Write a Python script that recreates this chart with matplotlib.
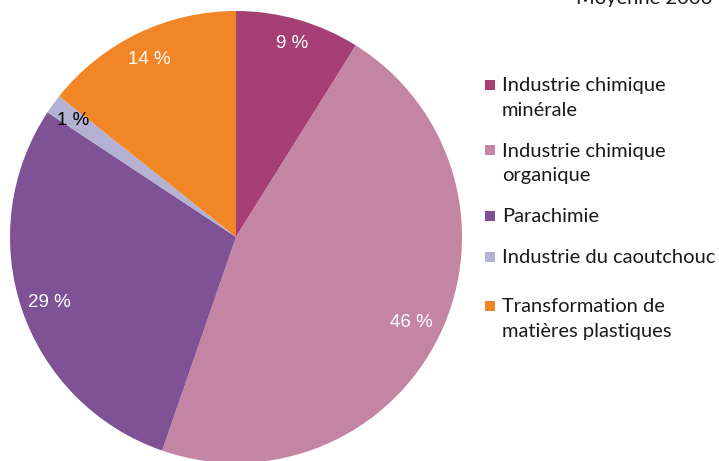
import numpy as np
import matplotlib.pyplot as plt
from matplotlib.patches import Rectangle

plt.rcParams['font.family'] = ['Lato', 'DejaVu Sans']

labels = ["Industrie chimique\nminérale", "Industrie chimique\norganique", "Parachimie",
          "Industrie du caoutchouc", "Transformation de\nmatières plastiques"]
values = [8.9, 46.4, 29.0, 1.4, 14.3]
shown = ["9 %", "46 %", "29 %", "1 %", "14 %"]
colors = ["#a63f74", "#c385a3", "#7e5295", "#b3b2d2", "#f28526"]
text_colors = ["white", "white", "white", "black", "white"]

W, H = 719, 461
fig = plt.figure(figsize=(W / 100, H / 100), dpi=100)
cx, cy, r = 236, 224, 226
ax = fig.add_axes([(cx - r) / W, (cy - r) / H, 2 * r / W, 2 * r / H])
wedges, texts = ax.pie(values, colors=colors, startangle=90, counterclock=False,
                       radius=1, wedgeprops=dict(linewidth=0))
ax.set_xlim(-1, 1)
ax.set_ylim(-1, 1)
ax.set_aspect('equal')
ax.axis('off')

# percentage labels inside the slices
dists = [0.9, 0.86, 0.87, 0.89, 0.88]
for w, s, tc, d in zip(wedges, shown, text_colors, dists):
    ang = np.deg2rad((w.theta1 + w.theta2) / 2)
    ax.text(d * np.cos(ang), d * np.sin(ang), s, ha='center', va='center_baseline',
            color=tc, fontsize=13.5, family=['Liberation Sans', 'DejaVu Sans'])

# legend drawn by hand, one baseline per line, marker on the first line
baselines = [91, 156.5, 221.5, 263, 312]
for lab, col, y in zip(labels, colors, baselines):
    fig.patches.append(Rectangle((485 / W, (H - y + 1) / H), 10 / W, 10 / H,
                                 transform=fig.transFigure, color=col, lw=0))
    for i, line in enumerate(lab.split("\n")):
        fig.text(502 / W, (H - y - 24.5 * i) / H, line, ha='left', va='baseline',
                 fontsize=14.5, color='#1a1a1a')

fig.text(712 / W, (H - 4) / H, "Moyenne 2006", ha='right', va='baseline',
         fontsize=14.5, color='#1a1a1a')

fig.savefig("out.png", dpi=100)
